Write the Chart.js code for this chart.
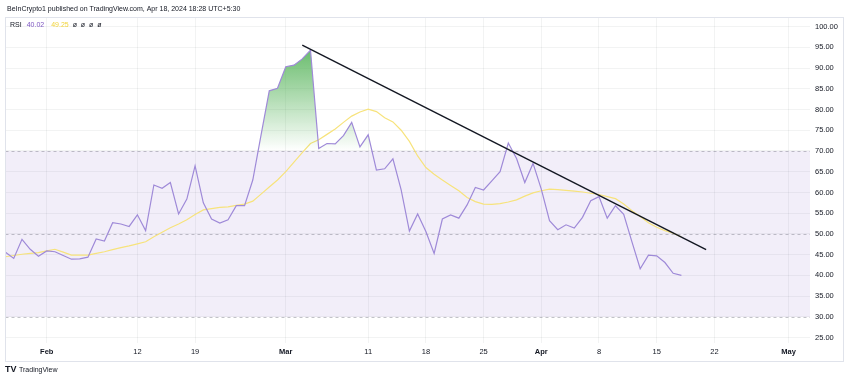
<!DOCTYPE html>
<html>
<head>
<meta charset="utf-8">
<script src="https://cdn.jsdelivr.net/npm/chart.js@4.4.1/dist/chart.umd.min.js"></script>
<style>
  html, body { margin: 0; padding: 0; background: #ffffff; }
  #wrap { width: 850px; height: 381px; position: relative; }
</style>
</head>
<body>
<div id="wrap"><canvas id="c" width="850" height="381"></canvas></div>
<script>
// Day offsets are counted from Feb 1, 2024 (Feb 1 = 0)
const startDay = -5; // Jan 27
const rsi = [45.6,44.1,48.7,46.3,44.6,45.9,45.7,44.8,43.9,44.0,44.4,48.8,48.3,52.7,52.4,51.8,54.6,50.8,61.8,61.0,
  62.4,54.8,58.4,66.4,57.5,53.6,52.6,53.4,56.8,56.8,63.0,73.8,84.5,85.1,90.3,90.7,92.2,94.3,70.6,71.8,
  71.7,73.7,76.9,71.0,73.9,65.4,65.7,68.1,60.6,50.7,54.8,50.6,45.3,53.6,54.6,53.8,57.0,61.2,60.6,62.8,
  65.0,71.9,68.2,62.4,67.0,60.8,53.2,51.0,52.2,51.4,54.0,58.0,59.0,53.8,56.8,54.7,48.1,41.6,44.9,44.7,
  43.1,40.5,40.02];
const rsiMA = [44.5,44.8,45.1,45.3,45.5,45.9,46.3,45.6,44.9,44.9,44.9,45.3,45.7,46.2,46.7,47.1,47.6,48.1,49.3,50.4,
  51.5,52.4,53.4,54.7,55.8,56.1,56.4,56.5,56.9,57.2,57.9,59.6,61.3,63.0,65.0,67.3,69.6,71.8,72.7,74.0,
  75.3,76.9,78.4,79.4,80.1,79.5,78.0,77.0,75.0,72.3,68.8,66.0,64.4,63.0,61.7,60.4,58.8,57.8,57.2,57.1,
  57.3,57.7,58.2,59.1,59.9,60.4,60.8,60.7,60.5,60.3,60.1,59.8,59.5,59.0,58.5,57.2,55.6,54.2,52.7,51.6,
  50.8,50.2,49.25];
const trendDays = [31, 80];
const trendValues = [95.5, 46.2];
const tickDays = [0, 11, 18, 29, 39, 46, 53, 60, 67, 74, 81, 90];
const tickLabels = ['Feb', '12', '19', 'Mar', '11', '18', '25', 'Apr', '8', '15', '22', 'May'];
const monthLabels = ['Feb', 'Mar', 'Apr', 'May'];
const yTicks = [25, 30, 35, 40, 45, 50, 55, 60, 65, 70, 75, 80, 85, 90, 95, 100];
const bandLevels = [30, 50, 70];
const headerText = 'BeInCrypto1 published on TradingView.com, Apr 18, 2024 18:28 UTC+5:30';
const lastRsiText = '40.02';
const lastMaText = '49.25';

const FONT = '"Liberation Sans", Arial, sans-serif';

const bgPlugin = {
  id: 'bgPlugin',
  beforeDatasetsDraw(chart) {
    const { ctx, chartArea, scales } = chart;
    const y = scales.y;
    const top = y.getPixelForValue(bandLevels[2]);
    const bot = y.getPixelForValue(bandLevels[0]);
    ctx.save();
    ctx.fillStyle = 'rgba(126,87,194,0.10)';
    ctx.fillRect(chartArea.left, top, chartArea.right - chartArea.left, bot - top);
    ctx.strokeStyle = 'rgba(120,123,134,0.45)';
    ctx.lineWidth = 1;
    ctx.setLineDash([3, 3]);
    bandLevels.forEach(v => {
      const py = Math.round(y.getPixelForValue(v)) + 0.5;
      ctx.beginPath();
      ctx.moveTo(chartArea.left, py);
      ctx.lineTo(chartArea.right, py);
      ctx.stroke();
    });
    ctx.restore();
  },
  afterDraw(chart) {
    const { ctx } = chart;
    ctx.save();
    ctx.strokeStyle = '#e0e3eb';
    ctx.lineWidth = 1;
    ctx.strokeRect(5.5, 17.5, 838, 344);
    ctx.fillStyle = '#131722';
    ctx.font = '7px ' + FONT;
    ctx.textBaseline = 'middle';
    ctx.textAlign = 'left';
    ctx.fillText(headerText, 7, 9);
    ctx.font = '7px ' + FONT;
    let x = 10;
    ctx.fillStyle = '#131722';
    ctx.fillText('RSI', x, 25);
    x += ctx.measureText('RSI').width + 5;
    ctx.fillStyle = '#7e57c2';
    ctx.fillText(lastRsiText, x, 25);
    x += ctx.measureText(lastRsiText).width + 7;
    ctx.fillStyle = '#f2d43a';
    ctx.fillText(lastMaText, x, 25);
    x += ctx.measureText(lastMaText).width + 4;
    ctx.fillStyle = '#131722';
    ctx.fillText('ø  ø  ø  ø', x, 25);
    ctx.font = 'bold 9px ' + FONT;
    ctx.fillStyle = '#131722';
    ctx.fillText('TV', 5, 370);
    ctx.font = '7px ' + FONT;
    ctx.fillText('TradingView', 19, 370);
    ctx.restore();
  }
};

const greenGradient = (context) => {
  const chart = context.chart;
  const { ctx, chartArea, scales } = chart;
  if (!chartArea) return 'rgba(76,175,80,0.5)';
  const g = ctx.createLinearGradient(0, scales.y.getPixelForValue(95), 0, scales.y.getPixelForValue(70));
  g.addColorStop(0, 'rgba(76,175,80,0.85)');
  g.addColorStop(1, 'rgba(76,175,80,0.0)');
  return g;
};

new Chart(document.getElementById('c'), {
  type: 'line',
  data: {
    datasets: [
      {
        label: 'Trend',
        data: trendDays.map((d, i) => ({ x: d, y: trendValues[i] })),
        borderColor: '#131722',
        borderWidth: 1.4,
        pointRadius: 0,
        fill: false,
        order: 0
      },
      {
        label: 'RSI',
        data: rsi.map((v, i) => ({ x: startDay + i, y: v })),
        borderColor: '#9f8ad8',
        borderWidth: 1.2,
        pointRadius: 0,
        tension: 0,
        backgroundColor: greenGradient,
        fill: { target: { value: 70 }, below: 'rgba(0,0,0,0)' },
        order: 1
      },
      {
        label: 'RSI MA',
        data: rsiMA.map((v, i) => ({ x: startDay + i, y: v })),
        borderColor: '#f7e37c',
        borderWidth: 1.2,
        pointRadius: 0,
        tension: 0,
        fill: false,
        order: 2
      }
    ]
  },
  options: {
    responsive: false,
    animation: false,
    layout: { padding: { top: 17, left: 5.5, right: 0, bottom: 19 } },
    plugins: { legend: { display: false }, tooltip: { enabled: false } },
    scales: {
      x: {
        type: 'linear',
        min: -5,
        max: 92.6,
        afterBuildTicks(scale) { scale.ticks = tickDays.map(v => ({ value: v })); },
        afterFit(scale) { scale.height = 19; },
        grid: { color: 'rgba(42,46,57,0.06)', drawTicks: false },
        border: { display: false },
        ticks: {
          autoSkip: false,
          maxRotation: 0,
          padding: 4,
          color: '#131722',
          font: (ctx) => {
            const lbl = ctx.tick ? tickLabels[tickDays.indexOf(ctx.tick.value)] : '';
            return { family: FONT, size: 7.5, weight: monthLabels.includes(lbl) ? 'bold' : 'normal' };
          },
          callback: (v) => tickLabels[tickDays.indexOf(v)]
        }
      },
      y: {
        position: 'right',
        min: 23.7,
        max: 102.3,
        afterBuildTicks(scale) { scale.ticks = yTicks.map(v => ({ value: v })); },
        afterFit(scale) { scale.width = 40; },
        grid: { color: 'rgba(42,46,57,0.06)', drawTicks: false },
        border: { display: false },
        ticks: {
          padding: 5,
          color: '#131722',
          font: { family: FONT, size: 7.5 },
          callback: (v) => v.toFixed(2)
        }
      }
    }
  },
  plugins: [bgPlugin]
});
</script>
</body>
</html>
